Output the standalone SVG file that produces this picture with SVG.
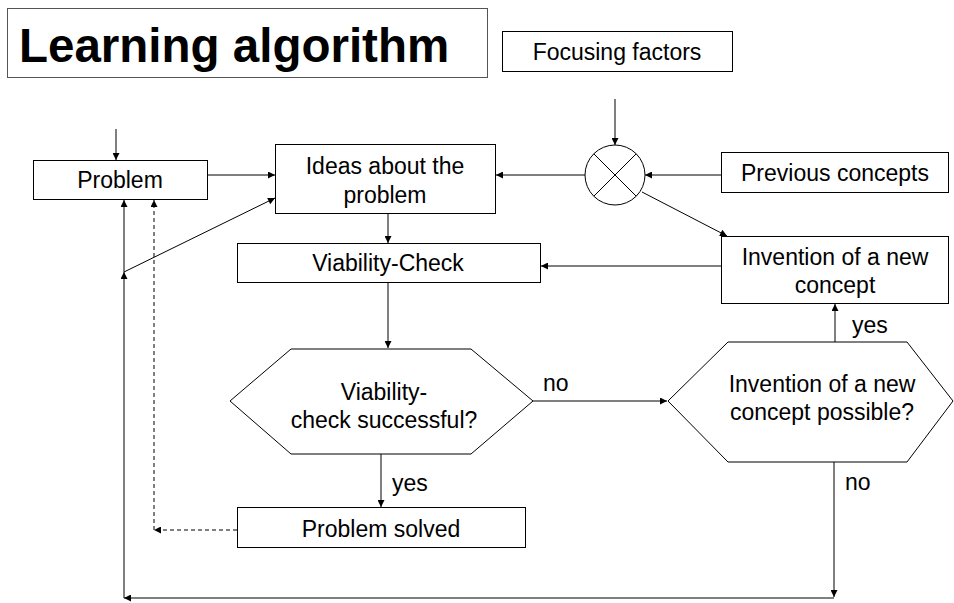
<svg xmlns="http://www.w3.org/2000/svg" width="954" height="603" viewBox="0 0 954 603">
<style>
.box{fill:#fff;stroke:#000;stroke-width:1}
.t{font-family:"Liberation Sans",Arial,sans-serif;font-size:23px;fill:#000;text-anchor:middle}
.l{font-family:"Liberation Sans",Arial,sans-serif;font-size:23px;fill:#000}
.c{fill:none;stroke:#000;stroke-width:1}
.d{fill:none;stroke:#000;stroke-width:1;stroke-dasharray:4,3}
</style>
<defs>
<marker id="a" viewBox="0 0 10 10" refX="10" refY="5" markerWidth="9" markerHeight="7" markerUnits="userSpaceOnUse" orient="auto">
<path d="M0,0 L10,5 L0,10 z" fill="#000"/>
</marker>
</defs>
<rect width="954" height="603" fill="#fff"/>
<g id="title">
<rect class="box" x="7.5" y="8.5" width="480" height="69" style="stroke:#555"/>
<text x="19" y="62" style="font-family:'Liberation Sans',Arial,sans-serif;font-weight:bold;font-size:47.5px">Learning algorithm</text>
</g>
<g id="focusing">
<rect class="box" x="502.5" y="31.5" width="230" height="40"/>
<text class="t" x="617" y="60">Focusing factors</text>
</g>
<g id="combiner">
<circle cx="615" cy="175" r="30" fill="#fff" stroke="#000"/>
<path class="c" d="M593.8,153.8 L636.2,196.2 M636.2,153.8 L593.8,196.2"/>
</g>
<g id="previous">
<rect class="box" x="721.5" y="152.5" width="227" height="40"/>
<text class="t" x="835" y="181">Previous concepts</text>
</g>
<g id="problem">
<rect class="box" x="33.5" y="160.5" width="174" height="39"/>
<text class="t" x="120" y="188">Problem</text>
</g>
<g id="ideas">
<rect class="box" x="275.5" y="144.5" width="220" height="69"/>
<text class="t" x="385" y="174">Ideas about the</text>
<text class="t" x="385" y="203">problem</text>
</g>
<g id="viability">
<rect class="box" x="237.5" y="243.5" width="303" height="39"/>
<text class="t" x="388" y="271">Viability-Check</text>
</g>
<g id="invention">
<rect class="box" x="721.5" y="236.5" width="227" height="67"/>
<text class="t" x="835" y="265">Invention of a new</text>
<text class="t" x="835" y="293">concept</text>
</g>
<g id="check">
<polygon class="box" points="291,349 471,349 533,401 471,454 291,454 230,401"/>
<text class="t" x="384" y="400">Viability-</text>
<text class="t" x="384" y="428">check successful?</text>
</g>
<g id="possible">
<polygon class="box" points="728,342 907,342 953,401 907,462 728,462 668,401"/>
<text class="t" x="822" y="392">Invention of a new</text>
<text class="t" x="822" y="420">concept possible?</text>
</g>
<g id="solved">
<rect class="box" x="237.5" y="507.5" width="288" height="40"/>
<text class="t" x="381" y="537">Problem solved</text>
</g>
<g id="connectors">
<line class="c" x1="615" y1="99" x2="615" y2="145" marker-end="url(#a)"/>
<line class="c" x1="721" y1="175" x2="645" y2="175" marker-end="url(#a)"/>
<line class="c" x1="585" y1="175" x2="496" y2="175" marker-end="url(#a)"/>
<line class="c" x1="116" y1="129" x2="116" y2="160" marker-end="url(#a)"/>
<line class="c" x1="207" y1="175" x2="275" y2="175" marker-end="url(#a)"/>
<line class="c" x1="388" y1="213" x2="388" y2="243" marker-end="url(#a)"/>
<line class="c" x1="388" y1="282" x2="388" y2="348" marker-end="url(#a)"/>
<line class="c" x1="642" y1="192" x2="727" y2="236" marker-end="url(#a)"/>
<line class="c" x1="721" y1="266" x2="541" y2="266" marker-end="url(#a)"/>
<line class="c" x1="533" y1="401" x2="667" y2="401" marker-end="url(#a)"/>
<line class="c" x1="835" y1="342" x2="835" y2="304" marker-end="url(#a)"/>
<line class="c" x1="381" y1="454" x2="381" y2="507" marker-end="url(#a)"/>
<line class="c" x1="834" y1="462" x2="834" y2="597" marker-end="url(#a)"/>
<line class="c" x1="834" y1="598" x2="124" y2="598" marker-end="url(#a)"/>
<line class="c" x1="124" y1="598" x2="124" y2="272" marker-end="url(#a)"/>
<line class="c" x1="124" y1="272" x2="124" y2="200" marker-end="url(#a)"/>
<line class="c" x1="124" y1="272" x2="275" y2="198" marker-end="url(#a)"/>
<line class="d" x1="237" y1="530" x2="154" y2="530" marker-end="url(#a)"/>
<line class="d" x1="154" y1="530" x2="154" y2="200" marker-end="url(#a)"/>
<text class="l" x="543" y="391">no</text>
<text class="l" x="852" y="333">yes</text>
<text class="l" x="392" y="491">yes</text>
<text class="l" x="845" y="490">no</text>
</g>
</svg>
